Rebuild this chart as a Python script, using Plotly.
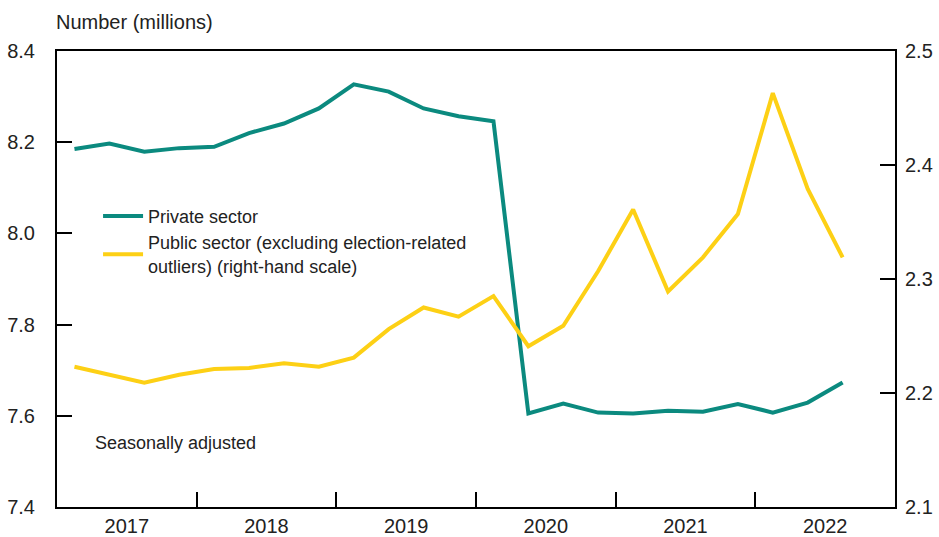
import plotly.graph_objects as go

# quarterly data, 2017 Q1 .. 2022 Q3
years = ["2017", "2018", "2019", "2020", "2021", "2022"]
private_sector = [8.185, 8.197, 8.179, 8.187, 8.190, 8.220, 8.241, 8.274,
                  8.327, 8.311, 8.274, 8.257, 8.246, 7.605, 7.627, 7.607,
                  7.605, 7.611, 7.609, 7.626, 7.607, 7.629, 7.673]
public_sector = [2.223, 2.216, 2.209, 2.216, 2.221, 2.222, 2.226, 2.223,
                 2.231, 2.256, 2.275, 2.267, 2.285, 2.241, 2.259, 2.307,
                 2.361, 2.289, 2.319, 2.357, 2.463, 2.379, 2.319]

# x position of each quarter: middle of its slot, 4 slots per year
quarter_x = [i + 0.5 for i in range(len(private_sector))]
year_mid = [4 * i + 2 for i in range(len(years))]
year_edges = [4 * i for i in range(1, len(years))]

TEAL = "#0b8a7f"
YELLOW = "#fdd015"
FONT = "Liberation Sans, Arial, sans-serif"
TXT = "#222222"

fig = go.Figure()

fig.add_trace(go.Scatter(x=quarter_x, y=private_sector, mode="lines",
                         name="Private sector",
                         line=dict(color=TEAL, width=4)))
fig.add_trace(go.Scatter(x=quarter_x, y=public_sector, mode="lines",
                         name="Public sector (excluding election-related<br>outliers) (right-hand scale)",
                         line=dict(color=YELLOW, width=4), yaxis="y2"))

fig.update_layout(
    width=939, height=537,
    margin=dict(l=57, r=44, t=51, b=30, autoexpand=False),
    plot_bgcolor="white", paper_bgcolor="white",
    font=dict(family=FONT, size=18, color=TXT),
    showlegend=True,
    legend=dict(x=0.049, y=0.678, xanchor="left", yanchor="top",
                bgcolor="rgba(0,0,0,0)", font=dict(size=18, color=TXT),
                tracegroupgap=0, itemwidth=40),
    xaxis=dict(range=[0, 24], tickmode="array", tickvals=year_mid, ticktext=years,
               ticks="", showgrid=False, zeroline=False, automargin=False,
               showline=True, linecolor="black", linewidth=2, mirror=True,
               tickfont=dict(size=20, color=TXT),
               minor=dict(tickmode="array", tickvals=year_edges, ticks="inside",
                          ticklen=15, tickwidth=2, tickcolor="black", showgrid=False)),
    yaxis=dict(range=[7.4, 8.4], tickmode="array",
               tickvals=[7.4, 7.6, 7.8, 8.0, 8.2, 8.4],
               ticktext=["7.4", "7.6", "7.8", "8.0", "8.2", "8.4"],
               ticks="inside", ticklen=15, tickwidth=2, tickcolor="black",
               showgrid=False, zeroline=False, automargin=False,
               showline=True, linecolor="black", linewidth=2,
               tickfont=dict(size=20, color=TXT), ticklabelstandoff=16),
    yaxis2=dict(range=[2.1, 2.5], overlaying="y", side="right", tickmode="array",
                tickvals=[2.1, 2.2, 2.3, 2.4, 2.5],
                ticktext=["2.1", "2.2", "2.3", "2.4", "2.5"],
                ticks="inside", ticklen=15, tickwidth=2, tickcolor="black",
                showgrid=False, zeroline=False, automargin=False,
                showline=True, linecolor="black", linewidth=2,
                tickfont=dict(size=20, color=TXT), ticklabelstandoff=4),
)

fig.add_annotation(text="Number (millions)", xref="paper", yref="paper",
                   x=0, y=1.064, xanchor="left", yanchor="middle", xshift=-3,
                   showarrow=False, font=dict(size=20, color=TXT))
fig.add_annotation(text="Seasonally adjusted", xref="paper", yref="paper",
                   x=0.043, y=0.14, xanchor="left", yanchor="middle",
                   showarrow=False, font=dict(size=18, color=TXT))

# page body has an 8px default margin; drop it so the chart fills the window
fig.write_html("out.html", config={"displayModeBar": False},
               post_script="document.body.style.margin='0';document.body.style.overflow='hidden';")
